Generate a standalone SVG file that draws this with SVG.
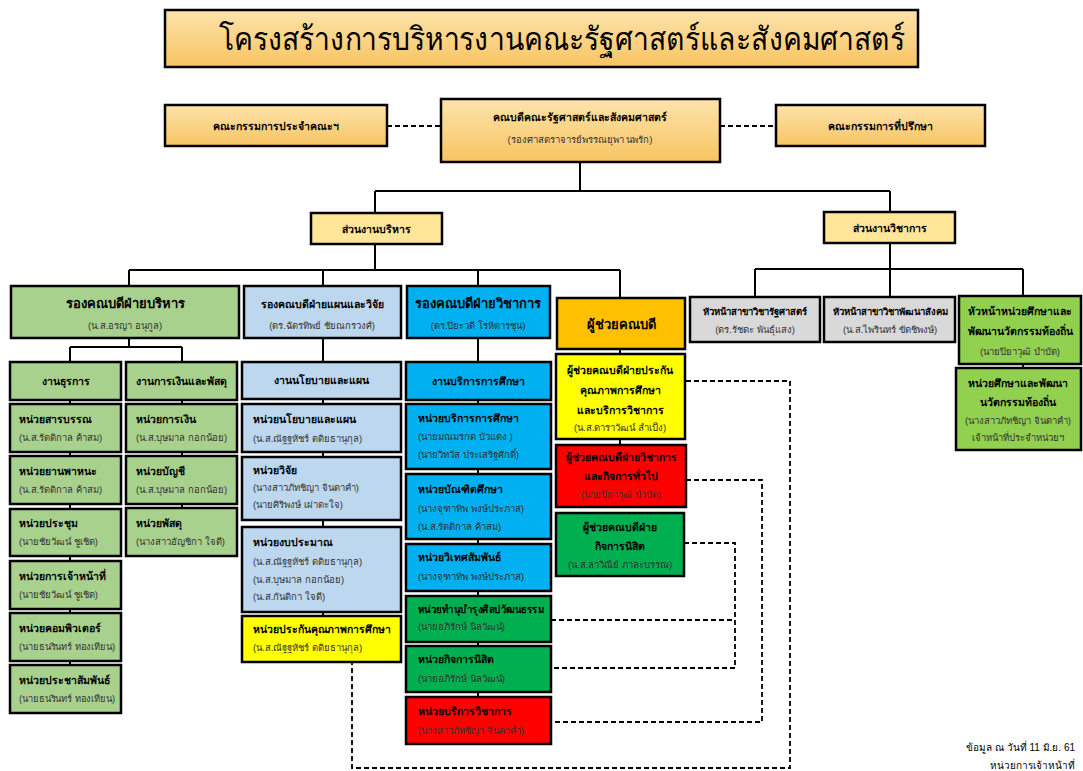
<svg xmlns="http://www.w3.org/2000/svg" width="1083" height="771" viewBox="0 0 1083 771">
<defs>
<linearGradient id="gOr" x1="0" y1="0" x2="0" y2="1">
<stop offset="0" stop-color="#FDE3AB"/>
<stop offset="1" stop-color="#F8C462"/>
</linearGradient>
<style>
text{font-family:"Liberation Sans","Noto Sans",sans-serif;fill:#000}
.b{stroke:#000;stroke-width:2.5}
.top{fill:url(#gOr)}
.sec{fill:#FFE699}
.gr{fill:#A9D18E}
.lb{fill:#BDD7EE}
.bl{fill:#00B0F0}
.or{fill:#FFC000}
.ye{fill:#FFFF00}
.rd{fill:#FF0000}
.dg{fill:#00B050}
.gy{fill:#D9D9D9}
.lg{fill:#92D050}
.t{font-size:10.5px;font-weight:bold}
.n{font-size:9.5px;fill:#333}
.h{font-size:13px;font-weight:bold}
.c{text-anchor:middle}
.ln{fill:none;stroke:#000;stroke-width:2}
.ds{fill:none;stroke:#000;stroke-width:1.8;stroke-dasharray:5,3}
</style>
</defs>
<rect width="1083" height="771" fill="#fff"/>

<g id="connectors">
<path class="ds" d="M387 126H441M720 126H776"/>
<path class="ln" d="M580 162V191M375 191H890M375 191V213M890 191V212"/>
<path class="ln" d="M375 244V270M129 270H620M129 270V286M323 270V286M478 270V286M620 270V298"/>
<path class="ln" d="M890 243V269M755 269H1023M755 269V297M890 269V297M1023 269V296"/>
<path class="ln" d="M129 338V347M70 347H182M70 347V665M182 347V508"/>
<path class="ln" d="M323 338V616M478 338V697M620 349V445M1023 364V368"/>
<path class="ds" d="M686 381H790V768H352V662"/>
<path class="ds" d="M686 480H762V722H551"/>
<path class="ds" d="M684 543H735V668H551M551 620H735"/>
</g>

<g id="title">
<rect class="b top" x="165" y="10" width="753" height="57" stroke-width="2"/>
<text class="c" x="562" y="50" font-size="32" textLength="686" lengthAdjust="spacingAndGlyphs">โครงสร้างการบริหารงานคณะรัฐศาสตร์และสังคมศาสตร์</text>
</g>

<g id="board">
<rect class="b top" x="165" y="105" width="222" height="41"/>
<text class="t c" x="276" y="130">คณะกรรมการประจำคณะฯ</text>
</g>
<g id="dean">
<rect class="b top" x="441" y="99" width="279" height="63"/>
<text class="t c" x="580" y="121">คณบดีคณะรัฐศาสตร์และสังคมศาสตร์</text>
<text class="n c" x="580" y="143">(รองศาสตราจารย์พรรณยุพา  นพรัก)</text>
</g>
<g id="advisory">
<rect class="b top" x="776" y="105" width="209" height="41"/>
<text class="t c" x="880" y="130">คณะกรรมการที่ปรึกษา</text>
</g>

<g id="sec-admin">
<rect class="b sec" x="311" y="213" width="131" height="31"/>
<text class="t c" x="376" y="233">ส่วนงานบริหาร</text>
</g>
<g id="sec-acad">
<rect class="b sec" x="824" y="212" width="131" height="31"/>
<text class="t c" x="890" y="232">ส่วนงานวิชาการ</text>
</g>

<g id="vd-admin">
<rect class="b gr" x="11" y="286" width="228" height="52"/>
<text class="h c" x="125" y="308">รองคณบดีฝ่ายบริหาร</text>
<text class="n c" x="125" y="329">(น.ส.อรญา อนุกูล)</text>
</g>
<g id="vd-plan">
<rect class="b lb" x="244" y="286" width="157" height="52"/>
<text class="t c" x="322" y="308">รองคณบดีฝ่ายแผนและวิจัย</text>
<text class="n c" x="322" y="329">(ดร.ฉัตรทิพย์  ชัยณกรวงศ์)</text>
</g>
<g id="vd-acad">
<rect class="b bl" x="407" y="286" width="143" height="52"/>
<text class="h c" x="478" y="308">รองคณบดีฝ่ายวิชาการ</text>
<text class="n c" x="478" y="329">(ดร.ปิยะวดี โรหิตารชุน)</text>
</g>
<g id="ast-dean">
<rect class="b or" x="557" y="298" width="128" height="51"/>
<text class="h c" x="621" y="329">ผู้ช่วยคณบดี</text>
</g>
<g id="head-pol">
<rect class="b gy" x="690" y="297" width="130" height="45"/>
<text class="c" x="755" y="315" font-size="9.5" font-weight="bold">หัวหน้าสาขาวิชารัฐศาสตร์</text>
<text class="n c" x="755" y="333">(ดร.รัชดะ พันธุ์แสง)</text>
</g>
<g id="head-soc">
<rect class="b gy" x="824" y="297" width="131" height="45"/>
<text class="c" x="890" y="315" font-size="9.5" font-weight="bold">หัวหน้าสาขาวิชาพัฒนาสังคม</text>
<text class="n c" x="890" y="333">(น.ส.ไพรินทร์ ขัดชิพงษ์)</text>
</g>
<g id="head-local">
<rect class="b lg" x="959" y="296" width="122" height="68"/>
<text class="t c" x="1020" y="315">หัวหน้าหน่วยศึกษาและ</text>
<text class="t c" x="1020" y="335">พัฒนานวัตกรรมท้องถิ่น</text>
<text class="n c" x="1020" y="355">(นายปิยาวุฒิ บำบัด)</text>
</g>
<g id="unit-local">
<rect class="b lg" x="956" y="368" width="125" height="82"/>
<text class="t c" x="1018" y="387">หน่วยศึกษาและพัฒนา</text>
<text class="t c" x="1018" y="406">นวัตกรรมท้องถิ่น</text>
<text class="n c" x="1018" y="424">(นางสาวภัทชิญา จินดาคำ)</text>
<text class="n c" x="1018" y="441">เจ้าหน้าที่ประจำหน่วยฯ</text>
</g>

<g id="w-general">
<rect class="b gr" x="10" y="362" width="111" height="38"/>
<text class="t c" x="66" y="385">งานธุรการ</text>
</g>
<g id="u-saraban">
<rect class="b gr" x="10" y="404" width="111" height="48"/>
<text class="t" x="19" y="423">หน่วยสารบรรณ</text>
<text class="n" x="19" y="441">(น.ส.รัตติกาล ค้าสม)</text>
</g>
<g id="u-vehicle">
<rect class="b gr" x="10" y="456" width="111" height="48"/>
<text class="t" x="19" y="475">หน่วยยานพาหนะ</text>
<text class="n" x="19" y="493">(น.ส.รัตติกาล ค้าสม)</text>
</g>
<g id="u-meeting">
<rect class="b gr" x="10" y="509" width="111" height="47"/>
<text class="t" x="19" y="527">หน่วยประชุม</text>
<text class="n" x="19" y="545">(นายชัยวัฒน์  ชูเชิด)</text>
</g>
<g id="u-staff">
<rect class="b gr" x="10" y="561" width="111" height="48"/>
<text class="t" x="19" y="580">หน่วยการเจ้าหน้าที่</text>
<text class="n" x="19" y="598">(นายชัยวัฒน์  ชูเชิด)</text>
</g>
<g id="u-computer">
<rect class="b gr" x="10" y="613" width="111" height="48"/>
<text class="t" x="19" y="632">หน่วยคอมพิวเตอร์</text>
<text class="n" x="19" y="650" textLength="96" lengthAdjust="spacingAndGlyphs">(นายธนรินทร์ ทองเทียน)</text>
</g>
<g id="u-pr">
<rect class="b gr" x="10" y="665" width="111" height="48"/>
<text class="t" x="19" y="684">หน่วยประชาสัมพันธ์</text>
<text class="n" x="19" y="702" textLength="96" lengthAdjust="spacingAndGlyphs">(นายธนรินทร์ ทองเทียน)</text>
</g>

<g id="w-finance">
<rect class="b gr" x="126" y="362" width="111" height="38"/>
<text class="t c" x="181" y="385">งานการเงินและพัสดุ</text>
</g>
<g id="u-fin">
<rect class="b gr" x="126" y="404" width="111" height="48"/>
<text class="t" x="136" y="423">หน่วยการเงิน</text>
<text class="n" x="136" y="441">(น.ส.บุษมาล กอกน้อย)</text>
</g>
<g id="u-acc">
<rect class="b gr" x="126" y="456" width="111" height="48"/>
<text class="t" x="136" y="475">หน่วยบัญชี</text>
<text class="n" x="136" y="493">(น.ส.บุษมาล กอกน้อย)</text>
</g>
<g id="u-supply">
<rect class="b gr" x="126" y="508" width="111" height="48"/>
<text class="t" x="136" y="527">หน่วยพัสดุ</text>
<text class="n" x="136" y="545">(นางสาวอัญชิกา ใจดี)</text>
</g>

<g id="w-policy">
<rect class="b lb" x="242" y="362" width="159" height="37"/>
<text class="t c" x="321" y="384">งานนโยบายและแผน</text>
</g>
<g id="u-policy">
<rect class="b lb" x="242" y="404" width="159" height="48"/>
<text class="t" x="253" y="423">หน่วยนโยบายและแผน</text>
<text class="n" x="253" y="442">(น.ส.ณัฐฐหัชร์  ตติยธานุกุล)</text>
</g>
<g id="u-research">
<rect class="b lb" x="242" y="457" width="159" height="63"/>
<text class="t" x="253" y="474">หน่วยวิจัย</text>
<text class="n" x="253" y="491">(นางสาวภัทชิญา จินดาคำ)</text>
<text class="n" x="253" y="508">(นายศิริพงษ์ เผ่าตะใจ)</text>
</g>
<g id="u-budget">
<rect class="b lb" x="242" y="527" width="159" height="85"/>
<text class="t" x="253" y="546">หน่วยงบประมาณ</text>
<text class="n" x="253" y="565">(น.ส.ณัฐฐหัชร์  ตติยธานุกุล)</text>
<text class="n" x="253" y="583">(น.ส.บุษมาล กอกน้อย)</text>
<text class="n" x="253" y="600">(น.ส.กันติกา ใจดี)</text>
</g>
<g id="u-qa">
<rect class="b ye" x="242" y="616" width="159" height="46"/>
<text class="t" x="253" y="633" textLength="138" lengthAdjust="spacingAndGlyphs">หน่วยประกันคุณภาพการศึกษา</text>
<text class="n" x="253" y="651">(น.ส.ณัฐฐหัชร์  ตติยธานุกุล)</text>
</g>

<g id="w-eduserv">
<rect class="b bl" x="406" y="362" width="145" height="38"/>
<text class="t c" x="478" y="385">งานบริการการศึกษา</text>
</g>
<g id="u-eduserv">
<rect class="b bl" x="406" y="404" width="145" height="65"/>
<text class="t" x="418" y="422">หน่วยบริการการศึกษา</text>
<text class="n" x="418" y="440">(นายมณมรกต  บัวแดง )</text>
<text class="n" x="418" y="458">(นายวิทวัส  ประเสริฐศักดิ์)</text>
</g>
<g id="u-grad">
<rect class="b bl" x="406" y="474" width="145" height="65"/>
<text class="t" x="418" y="493">หน่วยบัณฑิตศึกษา</text>
<text class="n" x="418" y="512">(นางจุฑาทิพ พงษ์ประภาส)</text>
<text class="n" x="418" y="530">(น.ส.รัตติกาล ค้าสม)</text>
</g>
<g id="u-inter">
<rect class="b bl" x="406" y="544" width="145" height="47"/>
<text class="t" x="418" y="561">หน่วยวิเทศสัมพันธ์</text>
<text class="n" x="418" y="580">(นางจุฑาทิพ พงษ์ประภาส)</text>
</g>
<g id="u-culture">
<rect class="b dg" x="406" y="596" width="145" height="46"/>
<text class="t" x="418" y="613" textLength="126" lengthAdjust="spacingAndGlyphs">หน่วยทำนุบำรุงศิลปวัฒนธรรม</text>
<text class="n" x="418" y="630">(นายอภิรักษ์  นิลวัฒน์)</text>
</g>
<g id="u-student">
<rect class="b dg" x="406" y="646" width="145" height="46"/>
<text class="t" x="418" y="663">หน่วยกิจการนิสิต</text>
<text class="n" x="418" y="682">(นายอภิรักษ์  นิลวัฒน์)</text>
</g>
<g id="u-acserv">
<rect class="b rd" x="406" y="697" width="145" height="47"/>
<text class="t" x="418" y="715">หน่วยบริการวิชาการ</text>
<text class="n" x="418" y="734">(นางสาวภัทชิญา จินดาคำ)</text>
</g>

<g id="ad-qa">
<rect class="b ye" x="556" y="354" width="129" height="85"/>
<text class="t c" x="620" y="374">ผู้ช่วยคณบดีฝ่ายประกัน</text>
<text class="t c" x="620" y="394">คุณภาพการศึกษา</text>
<text class="t c" x="620" y="414">และบริการวิชาการ</text>
<text class="n c" x="620" y="431">(น.ส.ดาราวัฒน์  ลำเป็ง)</text>
</g>
<g id="ad-acad">
<rect class="b rd" x="556" y="445" width="130" height="62"/>
<text class="t c" x="621" y="461">ผู้ช่วยคณบดีฝ่ายวิชาการ</text>
<text class="t c" x="621" y="480">และกิจการทั่วไป</text>
<text class="n c" x="621" y="498">(นายปิยาวุฒิ บำบัด)</text>
</g>
<g id="ad-student">
<rect class="b dg" x="556" y="513" width="128" height="63"/>
<text class="t c" x="620" y="531">ผู้ช่วยคณบดีฝ่าย</text>
<text class="t c" x="620" y="550">กิจการนิสิต</text>
<text class="n c" x="620" y="568">(น.ส.ลาวิณีย์ ภาละบรรณ)</text>
</g>

<g id="note">
<text x="1075" y="751" font-size="10" text-anchor="end" fill="#333">ข้อมูล ณ วันที่ 11 มิ.ย. 61</text>
<text x="1075" y="769" font-size="10" text-anchor="end" fill="#333">หน่วยการเจ้าหน้าที่</text>
</g>
</svg>
